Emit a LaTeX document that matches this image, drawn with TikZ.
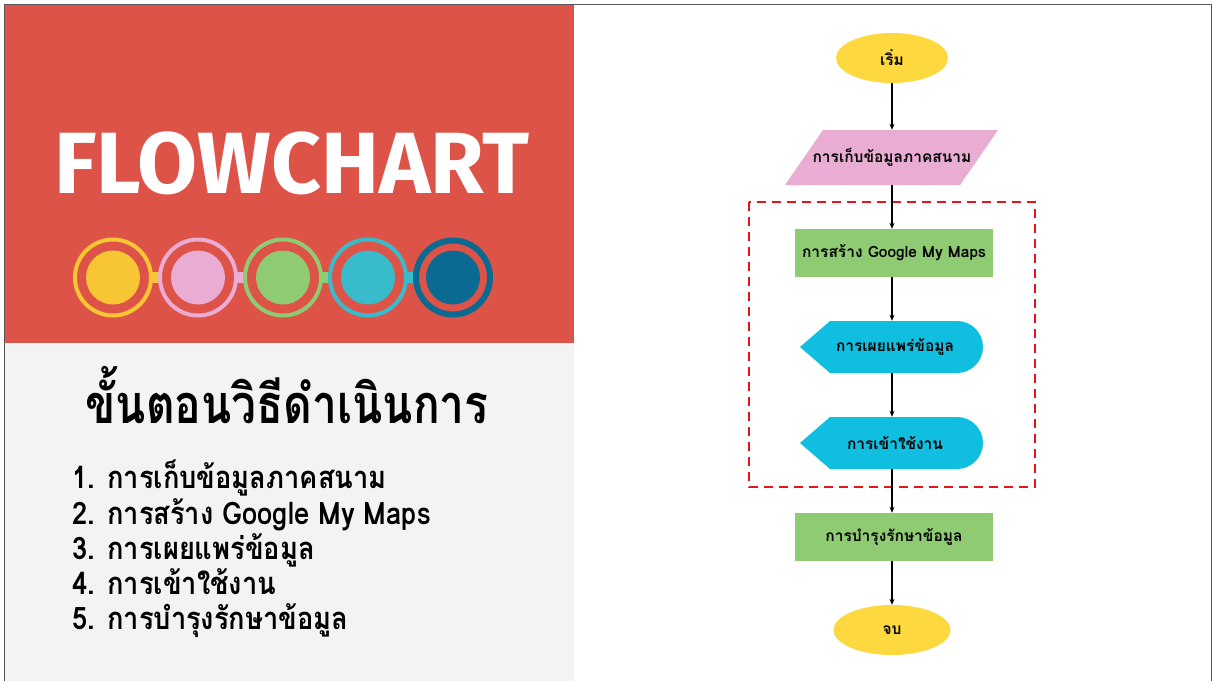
\documentclass[tikz,border=0pt]{standalone}
\usepackage{fontspec}
\setmainfont{Loma}[Script=Thai]
\newfontfamily\thai[Script=Thai]{Loma}
\newfontfamily\titlefont{Fira Sans}
\usetikzlibrary{shapes.geometric,arrows.meta}
\definecolor{panelred}{HTML}{DE5347}
\definecolor{panelgrey}{HTML}{F3F3F3}
\definecolor{cyel}{HTML}{F8C534}
\definecolor{cpink}{HTML}{EAACD2}
\definecolor{cgreen}{HTML}{8ECB72}
\definecolor{ccyan}{HTML}{38BCCB}
\definecolor{cdark}{HTML}{0B6A92}
\definecolor{fyel}{HTML}{FDD83E}
\definecolor{fpink}{HTML}{E9ACD3}
\definecolor{fgreen}{HTML}{8FCB73}
\definecolor{fcyan}{HTML}{10BFE0}
\definecolor{dashred}{HTML}{E8141C}
\definecolor{frame}{HTML}{555555}
\tikzset{
  flowtext/.style={font=\thai\bfseries\fontsize{15.5}{18}\selectfont, text=black, inner sep=0pt},
  terminal/.style={ellipse, fill=fyel, minimum width=112pt, minimum height=50pt, inner sep=0pt, flowtext},
  procbox/.style={rectangle, fill=fgreen, minimum width=198pt, minimum height=48pt, inner sep=0pt, flowtext},
  plainbox/.style={rectangle, minimum width=#1, minimum height=52pt, inner sep=0pt, flowtext},
  flowarrow/.style={-{Stealth[length=6pt,width=5pt]}, line width=1.3pt, black},
  listitem/.style={anchor=base west, font=\thai\bfseries\fontsize{31}{34}\selectfont, inner sep=0pt}
}
\newcommand{\squeeze}[1]{\scalebox{0.88}[1]{#1}}
\begin{document}
\begin{tikzpicture}[x=1pt,y=-1pt]
\useasboundingbox (0,0) rectangle (1213,681);
% panels
\fill[white] (0,0) rectangle (1213,681);
\fill[panelred] (5,4) rectangle (574,343);
\fill[panelgrey] (5,343) rectangle (574,681);
\draw[frame, line width=1.5pt] (4.5,681) -- (4.5,4.5) -- (1211.5,4.5) -- (1211.5,681);
% title
\node[anchor=base, text=white, font=\titlefont\bfseries\fontsize{87}{96}\selectfont, inner sep=0pt] (title) at (292,193) {FLOWCHART};
% rings and links
\fill[cyel] (150,272) rectangle (162,283);
\fill[cpink] (235,272) rectangle (247,283);
\fill[cgreen] (320,272) rectangle (332,283);
\fill[ccyan] (405,272) rectangle (417,283);
\foreach \cx/\col/\lw in {113/cyel/4, 198/cpink/4, 283/cgreen/4, 368/ccyan/4, 453/cdark/6}{
  \draw[\col, line width=\lw pt] (\cx,277.5) circle (40pt-\lw pt/2);
  \fill[\col] (\cx,277.5) circle (27pt);
}
% heading and list
\node[anchor=base, font=\thai\bfseries\fontsize{54}{60}\selectfont, inner sep=0pt] (heading) at (287,423) {\scalebox{0.82}[1]{ขั้นตอนวิธีดำเนินการ}};
\node[listitem] (l1) at (72,488) {\squeeze{1. การเก็บข้อมูลภาคสนาม}};
\node[listitem] (l2) at (72,524) {\squeeze{2. การสร้าง Google My Maps}};
\node[listitem] (l3) at (72,559) {\squeeze{3. การเผยแพร่ข้อมูล}};
\node[listitem] (l4) at (72,594) {\squeeze{4. การเข้าใช้งาน}};
\node[listitem] (l5) at (72,629) {\squeeze{5. การบำรุงรักษาข้อมูล}};
% flowchart shapes
\fill[fpink] (785,185) -- (823,130) -- (998,130) -- (960,185) -- cycle;
\fill[fcyan] (800,347) -- (830,321) -- (957,321) arc[start angle=90, end angle=-90, radius=26pt] -- (830,373) -- cycle;
\fill[fcyan] (800,443) -- (830,417) -- (957,417) arc[start angle=90, end angle=-90, radius=26pt] -- (830,469) -- cycle;
\draw[dashred, line width=2.5pt, dash pattern=on 9pt off 6pt] (749,202) rectangle (1035,487);
% nodes
\node[terminal] (start) at (892,58) {เริ่ม};
\node[plainbox=175pt, minimum height=55pt] (collect) at (892,157.5) {การเก็บข้อมูลภาคสนาม};
\node[procbox] (create) at (894,253) {การสร้าง Google My Maps};
\node[plainbox=183pt] (publish) at (892,347) {\hspace*{6pt}การเผยแพร่ข้อมูล};
\node[plainbox=183pt] (access) at (892,443) {\hspace*{6pt}การเข้าใช้งาน};
\node[procbox] (maintain) at (894,537) {การบำรุงรักษาข้อมูล};
\node[terminal, minimum width=117pt] (finish) at (892,630) {จบ};
% connectors
\draw[flowarrow] (start.south) -- (collect.north);
\draw[flowarrow] (collect.south) -- (create.north -| collect.south);
\draw[flowarrow] (create.south -| publish.north) -- (publish.north);
\draw[flowarrow] (publish.south) -- (access.north);
\draw[flowarrow] (access.south) -- (maintain.north -| access.south);
\draw[flowarrow] (maintain.south -| finish.north) -- (finish.north);
\end{tikzpicture}
\end{document}
